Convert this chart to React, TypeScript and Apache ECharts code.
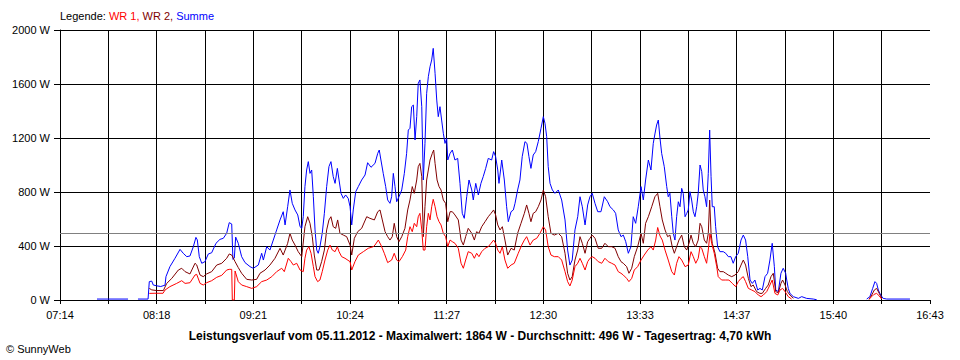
import React, { useEffect, useRef } from 'react';
import * as echarts from 'echarts';

const FONT = '"Liberation Sans", Arial, Helvetica, sans-serif';

// x axis: 07:14 .. 16:43 (569 minutes), 18 grid slots, labels on every second slot
const TIME_LABELS = ['07:14', '08:18', '09:21', '10:24', '11:27', '12:30', '13:33', '14:37', '15:40', '16:43'];
const SPAN_MIN = 569;
const SLOTS = 18;

// y axis (W)
const Y_MAX = 2000;
const Y_STEP = 400;

// daily average (W)
const AVERAGE = 496;

// [minutes after 07:14, watts]; null breaks the line
const SUMME: [number, number | null][] = [
  [24.2, 7], [44.5, 7], [45.1, null], [51.0, 7], [57.6, 7], [58.4, 136], [60.0, 140], [61.0, 111], [63.2, 105], [65.9, 100],
  [68.7, 110], [69.3, 173], [71.9, 247], [75.2, 309], [78.5, 375], [80.6, 346], [82.9, 321], [85.0, 326], [87.2, 395], [88.9, 464],
  [89.8, 445], [91.1, 321], [92.7, 272], [94.8, 284], [97.0, 341], [99.2, 350], [102.0, 420], [104.6, 449], [106.8, 457], [109.0, 494],
  [110.7, 573], [112.3, 563], [113.1, 300], [114.0, 310], [114.9, 466], [116.6, 420], [118.8, 321], [121.0, 277], [124.3, 247], [126.4, 235],
  [129.7, 259], [131.9, 346], [133.0, 296], [135.2, 395], [137.3, 370], [139.5, 444], [141.7, 519], [143.9, 593], [146.0, 654], [147.2, 556],
  [148.9, 691], [150.4, 815], [151.9, 716], [153.7, 667], [155.5, 630], [157.0, 543], [158.1, 531], [159.1, 617], [160.2, 840], [161.3, 963],
  [162.4, 1025], [163.5, 938], [164.6, 963], [165.7, 765], [166.8, 519], [167.9, 370], [168.9, 346], [170.0, 395], [171.5, 494], [172.9, 642],
  [174.4, 840], [175.9, 988], [177.2, 1025], [178.7, 914], [179.9, 864], [181.4, 975], [182.5, 889], [183.8, 790], [185.3, 753], [186.8, 778],
  [188.5, 753], [189.7, 691], [190.8, 556], [191.8, 667], [193.4, 802], [195.1, 840], [197.3, 889], [199.5, 926], [201.2, 1017], [203.4, 983],
  [206.0, 1012], [207.8, 1086], [208.8, 1111], [209.9, 1037], [211.4, 938], [213.0, 840], [214.3, 741], [215.8, 716], [216.9, 765], [218.0, 938],
  [219.1, 840], [220.2, 728], [221.7, 765], [223.5, 815], [225.2, 938], [226.7, 1086], [227.8, 1259], [228.9, 1272], [230.0, 1432], [231.1, 1444],
  [232.2, 1185], [233.3, 1358], [234.3, 1605], [235.4, 1630], [236.6, 1432], [237.6, 889], [238.7, 1160], [239.8, 1531], [240.9, 1654], [242.0, 1728],
  [243.1, 1778], [244.1, 1864], [245.3, 1679], [246.4, 1481], [247.4, 1358], [248.5, 1432], [249.6, 1333], [250.7, 1235], [251.8, 1160], [252.9, 1198],
  [253.6, 1037], [255.1, 1086], [256.6, 1111], [258.3, 1037], [260.1, 1049], [261.6, 864], [263.1, 642], [264.4, 605], [266.0, 765], [267.5, 889],
  [269.3, 815], [270.3, 741], [271.9, 864], [273.6, 778], [275.3, 864], [276.8, 914], [278.4, 975], [280.1, 1049], [282.3, 1037], [283.6, 1099],
  [284.9, 1062], [286.3, 963], [287.1, 864], [288.9, 1037], [290.6, 889], [292.1, 691], [293.2, 580], [295.0, 654], [296.5, 667], [297.6, 716],
  [299.3, 815], [300.8, 889], [302.3, 1062], [304.1, 1173], [305.4, 1160], [306.7, 1062], [308.0, 975], [309.5, 1074], [311.1, 1099], [312.8, 1173],
  [314.6, 1272], [316.1, 1358], [317.2, 1309], [318.3, 1210], [319.3, 988], [320.5, 864], [322.0, 815], [323.7, 790], [325.9, 815], [328.1, 741],
  [330.3, 593], [332.0, 370], [333.5, 259], [335.0, 296], [336.8, 519], [338.6, 617], [340.1, 765], [341.6, 691], [343.4, 556], [345.1, 704],
  [346.6, 765], [348.1, 790], [349.9, 716], [351.7, 654], [353.8, 654], [356.0, 765], [358.2, 728], [359.7, 691], [361.9, 667], [363.4, 642],
  [365.1, 519], [366.9, 469], [368.4, 481], [370.0, 432], [371.7, 346], [373.4, 395], [374.9, 617], [376.5, 568], [378.2, 691], [380.0, 840],
  [381.5, 741], [383.0, 889], [384.8, 1037], [386.5, 963], [388.0, 1160], [389.1, 1230], [390.2, 1296], [391.3, 1333], [392.4, 1200], [393.5, 1086],
  [395.2, 988], [396.8, 840], [397.8, 765], [398.9, 790], [400.1, 617], [401.1, 494], [402.2, 444], [403.3, 617], [404.4, 728], [405.5, 691],
  [406.6, 827], [407.6, 790], [408.8, 617], [409.9, 642], [410.9, 667], [412.0, 802], [413.1, 741], [414.2, 654], [415.3, 617], [416.4, 691],
  [417.4, 790], [418.6, 1000], [419.7, 951], [420.7, 815], [421.8, 765], [422.9, 691], [424.0, 938], [424.9, 1259], [425.8, 914], [426.6, 691],
  [427.9, 691], [428.8, 543], [430.1, 395], [431.6, 358], [433.8, 358], [435.4, 346], [437.1, 321], [438.8, 321], [440.3, 272], [441.9, 321],
  [443.6, 346], [445.4, 444], [446.9, 481], [448.4, 444], [449.8, 321], [451.3, 148], [452.8, 123], [454.5, 148], [456.3, 74], [457.8, 86],
  [459.3, 74], [461.1, 173], [462.8, 198], [464.3, 296], [465.8, 420], [467.2, 247], [468.1, 74], [469.8, 62], [471.5, 198], [473.0, 235],
  [474.6, 198], [475.3, 148], [476.3, 86], [477.4, 49], [479.6, 25], [482.9, 12], [485.1, 25], [488.3, 12], [492.7, 7], [494.9, 2],
  [495.7, null], [527.6, 7], [529.7, 25], [531.5, 86], [533.0, 136], [534.1, 123], [535.2, 74], [536.7, 37], [538.4, 12], [540.7, 7],
  [555.9, 7],
];

const WR1: [number, number | null][] = [
  [58.4, 49], [62.1, 50], [67.4, 50], [68.7, 74], [71.9, 99], [76.3, 123], [79.6, 143], [81.8, 123], [85.0, 128], [88.3, 185],
  [89.4, 190], [91.6, 123], [93.7, 111], [95.9, 128], [99.2, 143], [102.5, 168], [105.8, 183], [109.0, 222], [110.7, 227], [112.3, 227],
  [112.7, 0], [114.0, 0], [114.5, 215], [116.6, 136], [118.8, 111], [122.1, 99], [125.4, 86], [128.6, 99], [131.9, 136], [135.2, 148],
  [138.5, 173], [141.7, 210], [145.0, 235], [146.7, 210], [149.3, 309], [151.1, 284], [152.6, 259], [154.8, 272], [157.0, 222], [159.1, 210],
  [160.2, 309], [161.3, 370], [162.8, 395], [164.2, 346], [165.7, 247], [166.8, 173], [168.5, 136], [170.0, 148], [171.5, 210], [173.3, 296],
  [175.1, 370], [176.6, 407], [178.1, 370], [179.9, 358], [181.4, 395], [182.5, 358], [184.2, 321], [186.4, 309], [189.7, 284], [190.8, 222],
  [192.9, 284], [195.1, 333], [198.4, 358], [201.6, 383], [204.9, 395], [206.0, 407], [208.2, 444], [209.9, 407], [212.1, 346], [214.3, 277],
  [216.9, 296], [218.6, 346], [220.2, 296], [221.7, 284], [223.9, 321], [226.1, 370], [227.4, 469], [228.9, 543], [230.4, 506], [231.7, 568],
  [233.3, 543], [234.3, 617], [235.4, 642], [236.6, 519], [237.6, 370], [238.7, 370], [239.8, 543], [240.9, 642], [242.0, 593], [243.1, 691],
  [244.1, 746], [245.3, 691], [246.6, 617], [247.9, 580], [249.2, 556], [250.7, 494], [252.2, 469], [253.6, 395], [255.1, 444], [256.6, 432],
  [258.3, 420], [260.5, 383], [262.3, 272], [263.8, 235], [265.3, 296], [267.0, 358], [269.3, 346], [271.0, 309], [272.5, 346], [274.0, 321],
  [275.8, 358], [278.0, 383], [280.1, 395], [281.9, 420], [283.6, 444], [284.9, 420], [286.3, 370], [287.8, 346], [289.3, 395], [291.0, 296],
  [292.8, 235], [295.0, 259], [297.1, 272], [299.7, 346], [302.0, 407], [303.7, 444], [305.2, 469], [307.4, 407], [309.5, 444], [311.8, 457],
  [313.9, 494], [316.1, 543], [317.6, 519], [319.3, 395], [321.1, 333], [323.3, 321], [325.9, 321], [328.1, 296], [330.3, 210], [332.0, 136],
  [333.5, 104], [335.0, 148], [336.8, 247], [338.6, 272], [340.1, 309], [341.6, 272], [343.4, 222], [345.1, 284], [346.6, 309], [348.1, 321],
  [349.9, 309], [352.0, 284], [354.3, 272], [356.4, 309], [358.6, 284], [360.8, 272], [363.0, 259], [365.1, 210], [366.9, 198], [368.4, 185],
  [370.6, 160], [372.1, 136], [373.9, 160], [375.6, 222], [377.8, 247], [380.0, 296], [382.1, 333], [384.4, 370], [386.5, 395], [388.0, 370],
  [389.6, 444], [390.9, 537], [392.4, 475], [393.9, 444], [395.7, 370], [397.8, 296], [400.1, 210], [401.8, 185], [403.3, 272], [404.8, 321],
  [406.6, 296], [408.8, 247], [410.9, 259], [412.7, 358], [414.2, 321], [415.8, 272], [417.4, 309], [418.6, 395], [419.7, 383], [421.4, 321],
  [422.9, 272], [424.0, 370], [425.1, 494], [426.2, 420], [427.9, 346], [429.5, 247], [430.5, 173], [432.7, 148], [435.4, 148], [437.5, 148],
  [439.7, 123], [441.9, 99], [443.6, 136], [445.4, 160], [446.9, 173], [448.4, 136], [450.2, 86], [452.4, 74], [454.5, 62], [456.7, 37],
  [458.5, 25], [460.0, 37], [462.2, 62], [464.3, 111], [465.8, 148], [467.6, 49], [469.4, 37], [470.9, 74], [472.6, 86], [474.2, 62],
  [476.3, 25], [478.5, 7], [480.0, null], [529.1, 5], [530.9, 25], [532.4, 42], [534.1, 49], [535.8, 30], [537.4, 7],
];

const WR2: [number, number | null][] = [
  [58.4, 86], [60.0, 75], [63.2, 70], [67.6, 70], [69.8, 123], [73.1, 160], [77.4, 222], [79.6, 235], [81.8, 210], [85.0, 193],
  [88.3, 272], [89.4, 260], [91.6, 185], [93.7, 173], [95.9, 193], [99.2, 210], [102.5, 259], [105.8, 272], [109.0, 309], [110.7, 341],
  [112.3, 333], [113.8, 300], [114.5, 284], [116.6, 240], [118.8, 198], [122.1, 153], [125.4, 148], [128.6, 153], [130.8, 198], [134.1, 222],
  [137.3, 259], [140.6, 309], [143.9, 383], [146.0, 333], [148.9, 420], [150.4, 494], [151.9, 444], [153.7, 407], [155.8, 358], [158.1, 321],
  [160.2, 543], [162.0, 617], [163.5, 568], [165.0, 469], [166.3, 333], [167.9, 222], [169.4, 222], [171.1, 284], [172.9, 370], [174.4, 519],
  [175.9, 593], [177.2, 617], [178.7, 543], [180.3, 531], [181.6, 593], [183.1, 494], [185.3, 481], [187.5, 469], [189.7, 407], [190.8, 333],
  [192.5, 457], [194.7, 506], [197.3, 531], [200.6, 617], [202.7, 605], [205.6, 593], [207.8, 654], [209.3, 667], [210.8, 593], [212.6, 506],
  [214.3, 469], [215.8, 444], [217.3, 469], [218.6, 568], [220.2, 469], [221.7, 432], [223.5, 469], [225.6, 531], [227.4, 667], [228.9, 741],
  [230.4, 840], [231.7, 790], [233.3, 889], [234.3, 988], [235.4, 1012], [236.6, 914], [237.6, 469], [238.7, 691], [239.8, 889], [240.9, 963],
  [242.0, 1037], [243.5, 1086], [244.4, 1111], [245.3, 1012], [246.6, 889], [247.9, 840], [249.2, 815], [250.7, 741], [252.2, 716], [253.6, 580],
  [255.1, 654], [256.6, 654], [258.3, 630], [260.5, 593], [262.3, 444], [263.8, 407], [265.3, 469], [267.0, 531], [269.3, 494], [271.0, 444],
  [272.5, 506], [274.0, 494], [275.8, 543], [278.0, 580], [280.1, 617], [281.9, 642], [283.6, 667], [284.9, 630], [286.3, 556], [287.8, 519],
  [289.3, 543], [291.0, 444], [292.8, 333], [295.0, 383], [297.1, 370], [299.3, 494], [301.5, 568], [303.7, 642], [305.2, 704], [306.7, 642],
  [308.0, 580], [309.5, 642], [311.1, 654], [312.8, 691], [314.6, 741], [316.1, 815], [317.6, 765], [319.3, 617], [321.1, 494], [323.3, 481],
  [325.9, 494], [328.1, 469], [330.3, 346], [332.0, 198], [333.5, 148], [335.0, 173], [336.8, 296], [338.6, 370], [340.1, 469], [341.6, 420],
  [343.4, 346], [345.1, 432], [346.6, 457], [348.1, 481], [349.9, 457], [352.0, 383], [354.3, 383], [356.4, 420], [358.6, 395], [360.8, 395],
  [363.0, 383], [365.1, 321], [366.9, 284], [368.4, 272], [370.6, 247], [372.1, 198], [373.9, 235], [375.6, 321], [377.8, 395], [380.0, 494],
  [381.5, 420], [383.0, 568], [384.8, 617], [387.0, 691], [389.1, 765], [390.9, 790], [392.4, 691], [393.9, 593], [395.7, 519], [397.4, 469],
  [398.9, 481], [400.4, 395], [401.8, 346], [403.3, 395], [404.8, 444], [406.6, 481], [408.3, 395], [409.9, 370], [411.4, 420], [412.7, 481],
  [414.2, 420], [415.8, 395], [417.4, 444], [418.6, 568], [419.7, 543], [421.4, 444], [422.9, 420], [424.0, 494], [424.9, 740], [425.8, 494],
  [426.6, 420], [428.4, 346], [430.1, 235], [431.6, 210], [433.8, 210], [435.4, 198], [437.1, 185], [439.3, 173], [441.5, 185], [443.6, 210],
  [445.4, 259], [446.9, 296], [448.4, 259], [450.2, 160], [451.9, 99], [453.4, 111], [455.6, 62], [457.8, 49], [459.3, 49], [461.5, 86],
  [463.2, 111], [465.0, 173], [466.5, 198], [468.1, 62], [469.8, 54], [471.5, 123], [472.6, 148], [474.2, 111], [475.7, 62], [477.4, 37],
  [479.6, 12], [481.3, null], [529.1, 5], [530.9, 37], [532.6, 74], [534.1, 86], [535.8, 49], [537.4, 12],
];

const LEGEND_PARTS = ['Legende: ', 'WR 1, ', 'WR 2, ', 'Summe'];
const FOOTER = 'Leistungsverlauf vom 05.11.2012 - Maximalwert: 1864 W - Durchschnitt: 496 W - Tagesertrag: 4,70 kWh';
const COPYRIGHT = '© SunnyWeb';

const COLORS = { wr1: '#ff0000', wr2: '#800000', sum: '#0000ff', avg: '#808080' };

export default function App() {
  const ref = useRef<HTMLDivElement>(null);

  useEffect(() => {
    if (!ref.current) return;
    const chart = echarts.init(ref.current, null, { renderer: 'svg' });
    const toAxis = (pts: [number, number | null][]) =>
      pts.map(([t, w]) => [(t * SLOTS) / SPAN_MIN, w === null ? '-' : w]);

    const lineSeries = (name: string, data: [number, number | null][], color: string, extra: any = {}) => ({
      type: 'line',
      name,
      data: toAxis(data),
      showSymbol: false,
      symbol: 'none',
      connectNulls: false,
      silent: true,
      lineStyle: { color, width: 1 },
      itemStyle: { color },
      ...extra,
    });

    chart.setOption({
      animation: false,
      backgroundColor: '#ffffff',
      textStyle: { fontFamily: FONT },
      title: [
        {
          text: `{k|${LEGEND_PARTS[0]}}{r|${LEGEND_PARTS[1]}}{d|${LEGEND_PARTS[2]}}{b|${LEGEND_PARTS[3]}}`,
          left: 60,
          top: 10,
          padding: 0,
          textStyle: {
            fontSize: 11,
            fontWeight: 'normal',
            rich: {
              k: { color: '#000000', fontSize: 11, fontFamily: FONT },
              r: { color: COLORS.wr1, fontSize: 11, fontFamily: FONT },
              d: { color: COLORS.wr2, fontSize: 11, fontFamily: FONT },
              b: { color: COLORS.sum, fontSize: 11, fontFamily: FONT },
            },
          },
        },
        {
          text: FOOTER,
          left: 'center',
          top: 330,
          padding: 0,
          textStyle: { fontSize: 12, fontWeight: 'bold', color: '#000000', fontFamily: FONT },
        },
        {
          text: COPYRIGHT,
          left: 6,
          top: 343,
          padding: 0,
          textStyle: { fontSize: 11, fontWeight: 'normal', color: '#000000', fontFamily: FONT },
        },
      ],
      grid: { left: 60, top: 30, width: 870, height: 270, containLabel: false },
      xAxis: {
        type: 'value',
        min: 0,
        max: SLOTS,
        interval: 1,
        axisLine: { show: true, lineStyle: { color: '#000000', width: 1 } },
        axisTick: { show: true, inside: false, length: 4, lineStyle: { color: '#000000', width: 1 } },
        axisLabel: {
          color: '#000000',
          fontSize: 11,
          fontFamily: FONT,
          margin: 9,
          showMinLabel: true,
          showMaxLabel: true,
          formatter: (v: number) => {
            const i = Math.round(v);
            return i % 2 === 0 ? TIME_LABELS[i / 2] ?? '' : '';
          },
        },
        splitLine: { show: true, showMaxLine: false, lineStyle: { color: '#000000', width: 1 } },
      },
      yAxis: {
        type: 'value',
        min: 0,
        max: Y_MAX,
        interval: Y_STEP,
        axisLine: { show: true, lineStyle: { color: '#000000', width: 1 } },
        axisTick: { show: true, inside: false, length: 6, lineStyle: { color: '#000000', width: 1 } },
        axisLabel: {
          color: '#000000',
          fontSize: 11,
          fontFamily: FONT,
          margin: 10,
          formatter: (v: number) => `${Math.round(v)} W`,
        },
        splitLine: { show: true, lineStyle: { color: '#000000', width: 1 } },
      },
      series: [
        lineSeries('Summe', SUMME, COLORS.sum, {
          markLine: {
            silent: true,
            symbol: 'none',
            label: { show: false },
            lineStyle: { color: COLORS.avg, type: 'solid', width: 1 },
            data: [{ yAxis: AVERAGE }],
          },
        }),
        lineSeries('WR 2', WR2, COLORS.wr2),
        lineSeries('WR 1', WR1, COLORS.wr1),
      ],
    });

    return () => chart.dispose();
  }, []);

  return (
    <div
      ref={ref}
      style={{ position: 'fixed', left: 0, top: 0, width: 960, height: 360, background: '#ffffff' }}
    />
  );
}
